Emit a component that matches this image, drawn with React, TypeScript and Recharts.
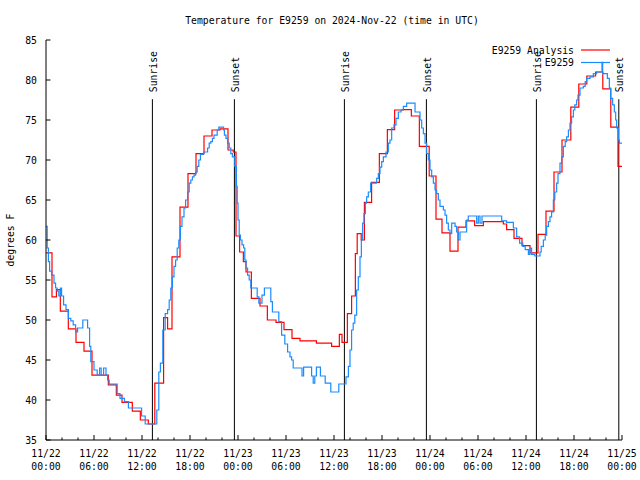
import { LineChart, Line, XAxis, YAxis, ReferenceLine, Legend } from "recharts";

const FONT = "DejaVu Sans Mono";
const FS = 9.75;
const RED = "#ff0000";
const BLUE = "#1a8cff";
const TITLE = "Temperature for E9259 on 2024-Nov-22 (time in UTC)";
const SERIES = ["E9259 Analysis", "E9259"];

// hours since 11/22 00:00 UTC, step values (deg F)
const analysisHours = [0, 0.75, 1.3, 1.79, 2.79, 3.75, 4.75, 5.75, 7.79, 8.79, 9.5, 10.79, 11.79, 12.79, 13.6,
  14.7, 15.2, 15.75, 16.75, 17.75, 18.75, 19.75, 20.75, 21.75, 22.75, 23.4, 23.75, 24.2, 24.67, 25.0,
  25.67, 26.75, 27.67, 28.75, 29.75, 30.75, 31.75, 33.8, 35.7, 36.67, 37.0, 37.67, 38.2, 38.67, 38.9,
  39.4, 39.8, 40.7, 41.67, 42.67, 43.58, 44.58, 45.67, 46.67, 47.9, 48.75, 49.5, 50.5, 51.5, 52.5,
  53.58, 54.67, 57.17, 57.58, 58.5, 59.5, 60.5, 61.5, 62.5, 63.5, 64.5, 65.6, 66.6, 67.6, 68.7,
  69.6, 70.6, 71.5, 72];
const analysisTemps = [58.4, 52.9, 53.8, 51.1, 48.9, 47.2, 46.1, 43.1, 41.9, 40.6, 39.7, 38.6, 37.5, 37.0, 42.1,
  50.3, 48.9, 57.9, 64.1, 68.3, 70.8, 73.0, 73.75, 73.9, 71.25, 71.0, 60.5, 58.5, 57.3, 56.0,
  52.7, 51.75, 50.0, 49.7, 48.8, 47.7, 47.4, 47.1, 46.7, 48.2, 47.2, 50.8, 53.0, 58.3, 60.8,
  60.0, 64.7, 67.2, 70.8, 73.8, 76.25, 76.3, 75.5, 71.7, 68.0, 62.6, 60.9, 58.6, 61.6, 62.4,
  61.8, 62.3, 62.0, 61.3, 60.2, 59.3, 58.4, 60.7, 63.6, 68.5, 72.5, 76.6, 79.5, 80.5, 81.0,
  78.9, 74.1, 69.2, 69.2];

const stationHours = [0, 0.15, 0.3, 0.45, 0.7, 1.0, 1.2, 1.4, 1.6, 1.8, 1.95, 2.2, 2.5, 2.8, 3.1, 3.4, 3.7, 3.95,
  4.6, 5.2, 5.45, 5.6, 6.0, 6.4, 6.7, 6.9, 7.2, 7.5, 7.7, 7.9, 8.9, 9.25, 9.8, 10.3, 11.95, 12.4,
  13.85, 14.1, 14.3, 14.6, 14.9, 15.2, 15.4, 15.6, 15.8, 16.0, 16.2, 16.4, 16.6, 16.8, 17.0, 17.25,
  17.45, 17.7, 17.9, 18.1, 18.3, 18.5, 18.7, 18.9, 19.1, 19.3, 19.7, 20.2, 20.4, 20.6, 20.8, 21.0,
  21.4, 21.6, 22.2, 22.3, 22.5, 22.7, 22.9, 23.1, 23.3, 23.6, 23.8, 23.9, 24.0, 24.15, 24.3, 24.5,
  24.7, 24.85, 25.0, 25.2, 25.4, 25.6, 26.4, 26.6, 27.0, 27.3, 28.1, 28.3, 29.1, 29.45, 29.85, 30.2,
  30.5, 30.7, 30.9, 32.0, 32.2, 33.2, 33.4, 33.6, 33.8, 34.3, 34.9, 35.6, 36.6, 37.5, 37.8, 38.0,
  38.2, 38.4, 38.6, 38.83, 39.04, 39.25, 39.42, 39.58, 39.75, 39.92, 40.08, 40.29, 40.58, 41.33,
  41.54, 41.75, 41.96, 42.17, 42.5, 42.79, 43.0, 43.21, 43.5, 43.75, 44.04, 44.38, 44.67, 45.08,
  46.13, 46.75, 46.96, 47.17, 47.38, 47.58, 47.79, 48.0, 48.21, 48.42, 48.63, 48.83, 49.04, 49.25,
  49.67, 49.88, 50.08, 50.29, 50.5, 50.71, 51.13, 51.33, 51.54, 51.75, 52.58, 52.79, 53.83, 54.04,
  54.25, 54.5, 56.96, 57.58, 58.42, 58.83, 59.2, 59.6, 59.9, 60.3, 60.5, 60.7, 61.1, 61.75, 61.9,
  62.17, 62.4, 62.58, 62.8, 63.0, 63.2, 63.42, 63.6, 63.83, 64.0, 64.25, 64.45, 64.67, 64.9, 65.08,
  65.3, 65.5, 65.7, 65.92, 66.1, 66.33, 66.5, 66.75, 67.17, 67.4, 67.58, 68.0, 68.42, 68.83, 69.5,
  69.58, 70.17, 70.42, 70.58, 70.83, 71.04, 71.21, 71.33, 71.54, 71.67, 72];
const stationTemps = [61.7, 59.0, 57.3, 56.1, 55.6, 54.6, 54.0, 53.6, 53.0, 54.0, 53.0, 51.9, 51.3, 50.2, 49.9, 49.4, 48.5, 49.0,
  50.0, 49.0, 46.7, 44.8, 43.75, 43.1, 44.0, 43.1, 44.0, 43.1, 42.5, 42.0, 40.8, 40.2, 39.8, 39.0, 38.0, 37.0,
  38.75, 43.5, 44.6, 48.75, 50.8, 51.3, 52.5, 54.0, 55.4, 56.7, 57.5, 59.0, 60.0, 61.7, 62.9, 64.0,
  65.0, 66.0, 67.1, 67.5, 67.9, 68.1, 68.5, 69.2, 70.0, 70.7, 71.0, 71.5, 72.1, 72.3, 72.7, 73.1,
  73.75, 74.1, 73.75, 73.1, 72.7, 72.1, 71.5, 70.8, 70.4, 69.2, 66.7, 64.6, 62.5, 60.6, 60.0, 59.4,
  59.0, 57.5, 56.5, 55.6, 55.0, 54.0, 52.9, 52.1, 53.1, 54.0, 52.3, 51.0, 49.8, 48.1, 47.0, 46.0,
  45.4, 45.0, 44.0, 43.0, 44.1, 43.0, 42.1, 43.0, 44.1, 43.0, 42.1, 41.0, 42.0, 42.9, 44.2, 46.25,
  48.75, 49.6, 50.6, 53.75, 55.4, 57.9, 60.0, 62.1, 63.3, 64.6, 65.4, 66.0, 67.1, 67.7,
  68.3, 69.1, 69.8, 70.4, 71.0, 72.1, 72.5, 74.0, 74.4, 75.2, 76.0, 76.25, 76.7, 77.1,
  76.0, 75.0, 74.0, 73.3, 72.1, 70.8, 70.0, 68.75, 67.9, 67.1, 66.25, 65.8, 65.0, 64.2,
  63.75, 63.1, 62.1, 61.25, 60.8, 62.1, 61.7, 61.0, 60.0, 61.0, 62.5, 63.0, 62.1, 63.0,
  62.1, 63.0, 62.4, 62.2, 61.5, 60.4, 59.6, 59.2, 58.8, 58.2, 59.0, 58.2, 58.0, 58.5, 59.2,
  60.0, 60.6, 61.7, 62.3, 62.9, 63.5, 65.0, 66.0, 67.1, 68.3, 69.6, 70.4, 71.7, 72.3, 72.9,
  73.75, 74.6, 75.4, 76.25, 76.9, 77.5, 78.1, 79.0, 79.2, 79.8, 80.2, 80.4, 80.8, 81.0, 82.2,
  80.8, 80.2, 79.0, 77.7, 76.9, 76.0, 75.0, 74.0, 72.5, 72.1, 72.1];

const sunHours = [13.3, 23.55, 37.3, 47.55, 61.3, 71.6];
const sunLabels = ["Sunrise", "Sunset", "Sunrise", "Sunset", "Sunrise", "Sunset"];

const xTicks = [0, 2, 4, 6, 8, 10, 12, 14, 16, 18, 20, 22, 24, 26, 28, 30, 32, 34, 36,
  38, 40, 42, 44, 46, 48, 50, 52, 54, 56, 58, 60, 62, 64, 66, 68, 70, 72];
const dayLabels = ["11/22", "11/23", "11/24", "11/25"];
const yTicks = [35, 40, 45, 50, 55, 60, 65, 70, 75, 80, 85];

const analysisData = analysisHours.map((t, i) => ({ t, v: analysisTemps[i] }));
const stationData = stationHours.map((t, i) => ({ t, v: stationTemps[i] }));

const txt = { fontFamily: FONT, fontSize: FS, fill: "#000" };

function BottomTick({ x, y, payload }: any) {
  const h = payload.value;
  const major = h % 6 === 0;
  const hh = String(h % 24).padStart(2, "0") + ":00";
  return (
    <g>
      <line x1={x} y1={y} x2={x} y2={y - (major ? 5 : 2.5)} stroke="#000" />
      {major && (
        <text textAnchor="middle" {...txt}>
          <tspan x={x} y={y + 16.5}>{dayLabels[Math.floor(h / 24)]}</tspan>
          <tspan x={x} y={y + 29.5}>{hh}</tspan>
        </text>
      )}
    </g>
  );
}

function TopTick({ x, y, payload }: any) {
  const major = payload.value % 6 === 0;
  return <line x1={x} y1={y} x2={x} y2={y + (major ? 5 : 2.5)} stroke="#000" />;
}

function LeftTick({ x, y, payload }: any) {
  return (
    <g>
      <line x1={x} y1={y} x2={x + 4.5} y2={y} stroke="#000" />
      <text x={x - 9} y={y + 3.5} textAnchor="end" {...txt}>{payload.value}</text>
    </g>
  );
}

function RightTick({ x, y }: any) {
  return <line x1={x} y1={y} x2={x - 4.5} y2={y} stroke="#000" />;
}

function sunLabel(text: string) {
  return (props: any) => {
    const vb = props.viewBox || {};
    const x = vb.x + 4.5;
    const y = vb.y - 7;
    return (
      <text x={x} y={y} transform={`rotate(-90 ${x} ${y})`} textAnchor="start" {...txt}>{text}</text>
    );
  };
}

function LegendBox({ payload }: any) {
  const items = [...(payload || [])].sort(
    (a: any, b: any) => SERIES.indexOf(a.value) - SERIES.indexOf(b.value)
  );
  return (
    <svg width={150} height={30} style={{ display: "block" }}>
      {items.map((e: any, i: number) => (
        <g key={i}>
          <text x={94} y={8 + i * 12.5 + 3.5} textAnchor="end" {...txt}>{e.value}</text>
          <line x1={101} x2={130} y1={8 + i * 12.5} y2={8 + i * 12.5} stroke={e.color} strokeWidth={1.2} />
        </g>
      ))}
    </svg>
  );
}

export default function App() {
  return (
    <div style={{ position: "absolute", left: 0, top: 0, background: "#fff" }}>
      <LineChart width={640} height={480} margin={{ top: 40, right: 18, bottom: 0, left: 0 }}>
        <text x={332} y={24} textAnchor="middle" {...txt}>{TITLE}</text>
        <text x={14} y={240} transform="rotate(-90 14 240)" textAnchor="middle" {...txt}>degrees F</text>
        <XAxis dataKey="t" type="number" domain={[0, 72]} ticks={xTicks} interval={0} height={40}
          tickSize={0} tickMargin={0} tickLine={false} tick={<BottomTick />} stroke="#000" allowDuplicatedCategory={false} />
        <XAxis xAxisId="top" dataKey="t" type="number" orientation="top" domain={[0, 72]} ticks={xTicks} interval={0}
          height={0} tickSize={0} tickMargin={0} tickLine={false} tick={<TopTick />} stroke="#000" />
        <YAxis type="number" domain={[35, 85]} ticks={yTicks} interval={0} width={46}
          tickSize={0} tickMargin={0} tickLine={false} tick={<LeftTick />} stroke="#000" />
        <YAxis yAxisId="right" orientation="right" type="number" domain={[35, 85]} ticks={yTicks} interval={0}
          width={0} tickSize={0} tickMargin={0} tickLine={false} tick={<RightTick />} stroke="#000" />
        {sunHours.map((h, i) => (
          <ReferenceLine key={i} segment={[{ x: h, y: 77.6 }, { x: h, y: 35 }]} stroke="#000" strokeWidth={1}
            label={sunLabel(sunLabels[i])} />
        ))}
        <Legend layout="vertical" align="center" verticalAlign="middle" content={<LegendBox />}
          wrapperStyle={{ left: 480, top: 42, width: 150, height: 30 }} />
        <Line data={analysisData} dataKey="v" name={SERIES[0]} type="stepAfter" stroke={RED}
          strokeWidth={1.2} dot={false} isAnimationActive={false} />
        <Line data={stationData} dataKey="v" name={SERIES[1]} type="stepAfter" stroke={BLUE}
          strokeWidth={1.2} dot={false} isAnimationActive={false} />
      </LineChart>
    </div>
  );
}
